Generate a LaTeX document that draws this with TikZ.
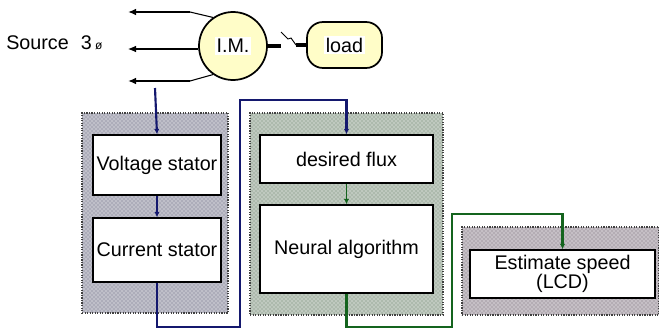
\documentclass[tikz,border=0pt]{standalone}
\usepackage{fontspec}
\setmainfont{Liberation Sans}
\usetikzlibrary{arrows.meta,patterns}
\definecolor{navywire}{RGB}{20,24,110}
\definecolor{greenwire}{RGB}{20,100,30}
\definecolor{motorfill}{RGB}{255,253,200}
\begin{document}
\begin{tikzpicture}[x=0.75pt,y=0.75pt,yscale=-1,xscale=1,
  txt/.style={font=\fontsize{14.8}{14.8}\selectfont},
  panel/.style={draw=black!75,densely dotted,line width=0.9pt,inner sep=0pt,
    preaction={fill=#1!15!black!32},pattern=crosshatch dots,pattern color=white},
  block/.style={draw=black,fill=white,line width=1.1pt,inner sep=0pt,align=center,txt},
  feed/.style={line width=1.6pt,-{Latex[length=4pt,width=4pt]}},
  phase/.style={line width=1.4pt,-{Latex[length=6pt,width=5pt]}}]
\useasboundingbox (0,0) rectangle (659,329);
% panels
\node[panel=blue,minimum width=109.5pt,minimum height=150pt] (pvolt) at (155,213) {};
\node[panel=green,minimum width=144.75pt,minimum height=151.5pt] (pflux) at (346.5,214) {};
\node[panel=violet,minimum width=147.75pt,minimum height=66pt] (pest) at (560.5,271) {};
% blocks
\node[block,minimum width=96pt,minimum height=45pt] (volt) at (157,165) {Voltage stator};
\node[block,minimum width=96pt,minimum height=48pt] (cur) at (157,250) {Current stator};
\node[block,minimum width=129.75pt,minimum height=36pt] (flux) at (346.5,159) {desired flux};
\node[block,minimum width=129.75pt,minimum height=66pt] (neural) at (346.5,249) {Neural algorithm};
\node[block,minimum width=138.75pt,minimum height=36pt] (est) at (562.5,274) {Estimate speed\\(LCD)};
% machine and load
\node[circle,draw=black,fill=motorfill,line width=1.3pt,minimum size=51pt,inner sep=0pt] (im) at (233,46) {};
\node[fill=white,inner sep=1.5pt,txt] at (im) {I.M.};
\node[rounded corners=12pt,draw=black,fill=motorfill,line width=1.3pt,minimum width=56.25pt,minimum height=34.5pt,inner sep=0pt] (load) at (344.5,45) {};
\node[fill=white,inner sep=1.5pt,txt] at (load) {load};
\node[anchor=west,txt,inner sep=0pt] (src) at (6,43) {Source\hspace{9pt}3\,{\fontsize{9}{9}\selectfont ø}};
\coordinate (la) at (128,12);
\coordinate (lb) at (128,49);
\coordinate (lc) at (128,81);
\coordinate (tap) at (155,88);
\draw[line width=0.8pt] (im.125) -- (190,12);
\draw[phase] (190,12) -- (la);
\draw[line width=0.8pt,-{Latex[length=6pt,width=5pt]}] (im.west |- lb) -- (lb);
\draw[line width=0.8pt] (im.235) -- (190,81);
\draw[phase] (190,81) -- (lc);
\draw[line width=2.4pt] (im.east) -- (281,46);
\draw[line width=0.7pt] (281,32) -- (288,39) -- (291,38) -- (296,45);
\draw[line width=2.4pt] (296,45) -- (load.west);
% wires
\draw[feed,navywire] (tap) -- (volt.north);
\draw[feed,navywire] (volt.south) -- (cur.north);
\draw[feed,navywire] (cur.south) -- (157,327) -- (240,327) -- (240,100) -- (346.5,100) -- (flux.north);
\draw[feed,greenwire,line width=1.2pt] (flux.south) -- (neural.north);
\draw[feed,greenwire] (neural.south) -- (346.5,327) -- (452,327) -- (452,214) -- (562.5,214) -- (est.north);
\end{tikzpicture}
\end{document}
